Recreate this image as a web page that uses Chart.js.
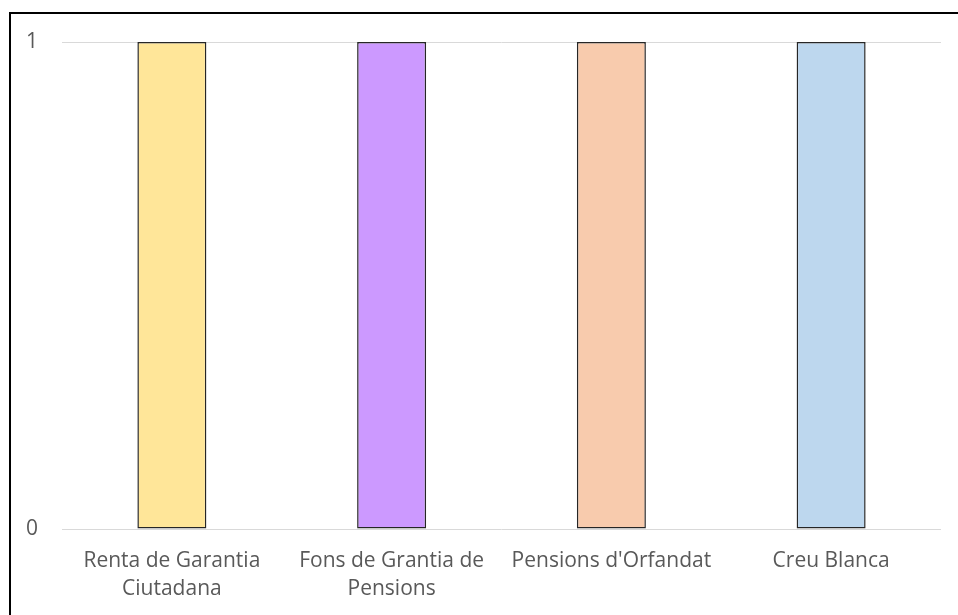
<!DOCTYPE html>
<html>
<head>
<meta charset="utf-8">
<script src="https://cdn.jsdelivr.net/npm/chart.js@4"></script>
<style>
  html, body { margin: 0; padding: 0; background: #fff; overflow: hidden; }
</style>
</head>
<body>
<canvas id="chart" width="958" height="615"></canvas>
<script>
const categories = [
  ['Renta de Garantia', 'Ciutadana'],
  ['Fons de Grantia de', 'Pensions'],
  "Pensions d'Orfandat",
  'Creu Blanca'
];
const values = [1, 1, 1, 1];
const barColors = ['#FFE699', '#CC99FF', '#F8CBAD', '#BDD7EE'];
const yTicks = [0, 1];

// outer chart-area frame (top and left edges visible in the picture)
const frame = {
  id: 'frame',
  afterDraw(chart) {
    const c = chart.ctx;
    c.save();
    c.strokeStyle = '#000';
    c.lineWidth = 2;
    c.beginPath();
    c.moveTo(10, chart.height);
    c.lineTo(10, 13);
    c.lineTo(chart.width, 13);
    c.stroke();
    c.restore();
  }
};

const ctx = document.getElementById('chart').getContext('2d');
new Chart(ctx, {
  type: 'bar',
  data: {
    labels: categories,
    datasets: [{
      data: values,
      backgroundColor: barColors,
      borderColor: '#262626',
      borderWidth: 1.5,
      borderSkipped: false,
      categoryPercentage: 1,
      barPercentage: 0.314
    }]
  },
  options: {
    responsive: false,
    animation: false,
    layout: { padding: { left: 0, right: 17, top: 42, bottom: 0 } },
    plugins: { legend: { display: false }, tooltip: { enabled: false } },
    scales: {
      x: {
        grid: { display: false },
        border: { display: false },
        ticks: {
          color: '#595959',
          font: { family: 'Open Sans', size: 21, lineHeight: 1.33 },
          padding: 10,
          maxRotation: 0,
          autoSkip: false
        },
        afterFit: s => { s.height = 86; }
      },
      y: {
        min: 0,
        max: 1,
        afterBuildTicks: s => { s.ticks = yTicks.map(v => ({ value: v })); },
        grid: { color: '#D9D9D9', lineWidth: 1, drawTicks: false },
        border: { display: false },
        ticks: {
          color: '#595959',
          font: { family: 'Open Sans', size: 21 },
          padding: 24
        },
        afterFit: s => { s.width = 62; }
      }
    }
  },
  plugins: [frame]
});
</script>
</body>
</html>
